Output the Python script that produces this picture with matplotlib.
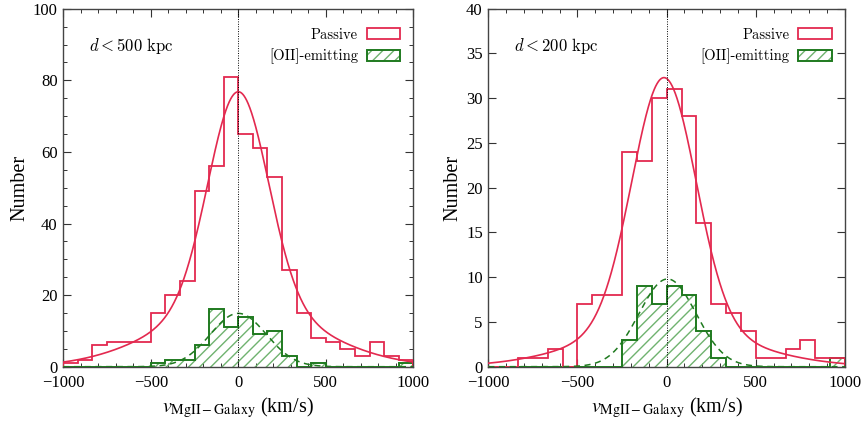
import numpy as np
import matplotlib
matplotlib.use("Agg")
import matplotlib.pyplot as plt
from matplotlib.patches import Patch
from matplotlib.legend_handler import HandlerTuple
from matplotlib.ticker import MultipleLocator
from matplotlib.font_manager import FontProperties

# ---------------- data ----------------
bin_edges = np.linspace(-1000, 1000, 25)

passive_500 = [1, 2, 6, 7, 7, 7, 15, 20, 24, 49, 56, 81,
               65, 61, 53, 27, 15, 8, 7, 5, 3, 7, 3, 2]
oii_500 = [0, 0, 0, 0, 0, 0, 1, 2, 2, 6, 16, 11,
           14, 9, 10, 3, 0, 1, 0, 0, 0, 0, 0, 1]

passive_200 = [0, 0, 1, 1, 2, 0, 7, 8, 8, 24, 23, 30,
               31, 28, 16, 7, 6, 4, 1, 1, 2, 3, 1, 1]
oii_200 = [0, 0, 0, 0, 0, 0, 0, 0, 0, 3, 9, 7,
           9, 8, 4, 1, 0, 0, 0, 0, 0, 0, 0, 1]

# fit parameters: narrow amp, narrow sigma, broad amp, broad sigma, centre
passive_fit_500 = [59.6, 170.0, 17.2, 440.0, 0.0]
passive_fit_200 = [28.0, 178.0, 4.3, 450.0, -15.0]
# gaussian fits: amp, centre, sigma
oii_fit_500 = [14.9, 0.0, 160.0]
oii_fit_200 = [9.8, 5.0, 160.0]

panel_labels = [r"$d < 500\ \mathrm{kpc}$", r"$d < 200\ \mathrm{kpc}$"]
ylims = [100, 40]
legend_labels = ["Passive", "[OII]-emitting"]

# ---------------- style ----------------
RED = "#e3294f"
GREEN = "#1f7a1f"
HATCH = "#6fb26f"
plt.rcParams["font.family"] = ["Liberation Serif", "DejaVu Serif"]
plt.rcParams["hatch.linewidth"] = 1.0


def two_gauss(x, p):
    a1, s1, a2, s2, c = p
    return a1 * np.exp(-0.5 * ((x - c) / s1) ** 2) + a2 * np.exp(-0.5 * ((x - c) / s2) ** 2)


def gauss(x, p):
    a, c, s = p
    return a * np.exp(-0.5 * ((x - c) / s) ** 2)


fig = plt.figure(figsize=(8.65, 4.21), dpi=100)
W, H = 865.0, 421.0
ax1 = fig.add_axes([63.3 / W, (H - 366.7) / H, 350 / W, 358 / H])
ax2 = fig.add_axes([488.3 / W, (H - 366.7) / H, 356.7 / W, 358 / H])

xs = np.linspace(-1000, 1000, 1001)
cmfont = FontProperties(family="cmr10", size=10.5)

panels = [
    (ax1, passive_500, oii_500, passive_fit_500, oii_fit_500, panel_labels[0], ylims[0], 20, 5),
    (ax2, passive_200, oii_200, passive_fit_200, oii_fit_200, panel_labels[1], ylims[1], 5, None),
]

for ax, pas, oii, pfit, ofit, lab, ymax, ymaj, ymin in panels:
    # hatched fill for [OII]
    ax.stairs(oii, bin_edges, fill=True, facecolor="none", edgecolor=HATCH,
              hatch="///", linewidth=0, zorder=2)
    ax.stairs(oii, bin_edges, color=GREEN, linewidth=1.4, zorder=3)
    ax.stairs(pas, bin_edges, color=RED, linewidth=1.3, zorder=3)
    ax.plot(xs, two_gauss(xs, pfit), color=RED, lw=1.2, zorder=4)
    ax.plot(xs, gauss(xs, ofit), color=GREEN, lw=1.1, ls=(0, (4, 3)), zorder=4)
    ax.axvline(0, color="k", ls=(0, (1, 1.5)), lw=0.7, zorder=5)

    ax.set_xlim(-1000, 1000)
    ax.set_ylim(0, ymax)
    ax.xaxis.set_major_locator(MultipleLocator(500))
    ax.xaxis.set_minor_locator(MultipleLocator(100))
    ax.yaxis.set_major_locator(MultipleLocator(ymaj))
    if ymin:
        ax.yaxis.set_minor_locator(MultipleLocator(ymin))
    ax.tick_params(which="both", direction="in", top=True, right=True,
                   labelsize=12, color="#333333")
    ax.tick_params(which="major", length=6, width=0.8)
    ax.tick_params(which="minor", length=3, width=0.7)
    ax.tick_params(axis="x", pad=6)
    ax.tick_params(axis="y", pad=4)
    for sp in ax.spines.values():
        sp.set_color("#444444")
        sp.set_linewidth(1.0)

    ax.set_ylabel("Number", fontsize=14.5, labelpad=2.5)
    ax.set_xlabel(r"$v_{\mathrm{MgII-Galaxy}}$ (km/s)", fontsize=14.5,
                  labelpad=3, math_fontfamily="stix")

    ax.text(0.073, 0.897, lab, transform=ax.transAxes, fontsize=12,
            math_fontfamily="cm", ha="left", va="center")

    h_pas = Patch(facecolor="none", edgecolor=RED, linewidth=1.3)
    h_oii_fill = Patch(facecolor="none", edgecolor=HATCH, hatch="///", linewidth=0)
    h_oii_edge = Patch(facecolor="none", edgecolor=GREEN, linewidth=1.4)
    ax.legend([h_pas, (h_oii_fill, h_oii_edge)], legend_labels,
              handler_map={tuple: HandlerTuple(ndivide=1, pad=0)},
              loc="upper right", bbox_to_anchor=(0.979, 0.962), borderaxespad=0,
              frameon=False, markerfirst=False, prop=cmfont,
              handlelength=2.3, handleheight=0.8, handletextpad=0.6,
              labelspacing=0.45)

fig.savefig("out.png", dpi=100)
